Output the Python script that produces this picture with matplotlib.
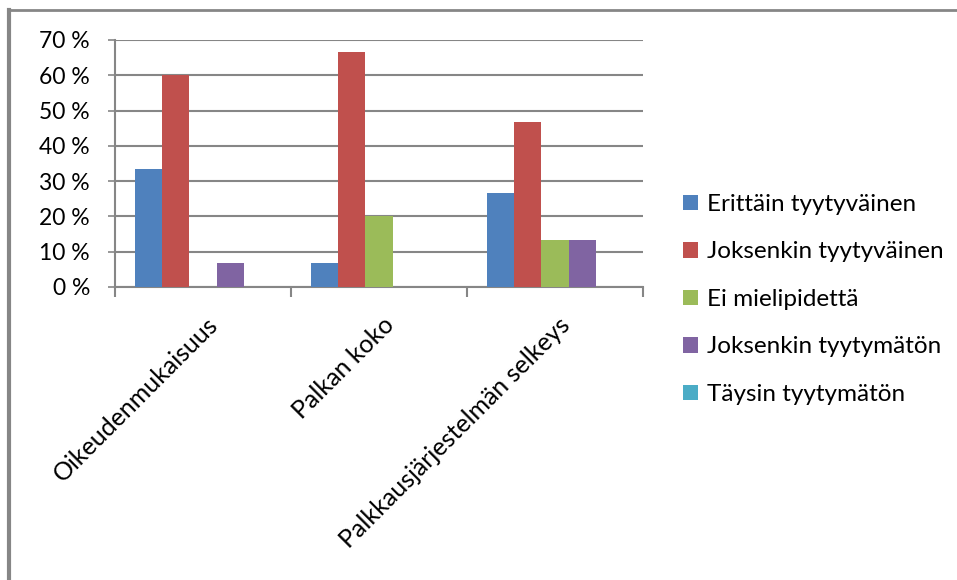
import matplotlib
matplotlib.use("Agg")
import matplotlib.pyplot as plt
from matplotlib.patches import Patch
from matplotlib.lines import Line2D
import numpy as np

plt.rcParams['font.family'] = ['Lato', 'DejaVu Sans']

categories = ["Oikeudenmukaisuus", "Palkan koko", "Palkkausjärjestelmän selkeys"]
series_names = ["Erittäin tyytyväinen", "Joksenkin tyytyväinen", "Ei mielipidettä",
                "Joksenkin tyytymätön", "Täysin tyytymätön"]
erittain = [33.3, 6.7, 26.7]
joksenkin_tyytyvainen = [60.0, 66.7, 46.7]
ei_mielipidetta = [0.0, 20.0, 13.3]
joksenkin_tyytymaton = [6.7, 0.0, 13.3]
taysin_tyytymaton = [0.0, 0.0, 0.0]
y_ticks = [0, 10, 20, 30, 40, 50, 60, 70]

series = [erittain, joksenkin_tyytyvainen, ei_mielipidetta, joksenkin_tyytymaton, taysin_tyytymaton]
colors = ["#4F81BD", "#C0504D", "#9BBB59", "#8064A2", "#4BACC6"]
grid_col = "#868686"

W, H = 957, 580
fig = plt.figure(figsize=(W / 100, H / 100), dpi=100)
fig.patch.set_facecolor("white")

ax = fig.add_axes([115 / W, 1 - 287 / H, (643 - 115) / W, (287 - 40) / H])

x = np.arange(len(categories))
n = len(series)
bw = 1 / (n + 1.5)
for i, (vals, col) in enumerate(zip(series, colors)):
    ax.bar(x + (i - (n - 1) / 2) * bw, vals, width=bw, color=col, linewidth=0, zorder=3)

ax.set_xlim(-0.5, len(categories) - 0.5)
ax.set_ylim(0, 70)
ax.set_yticks(y_ticks)
ax.set_yticklabels([f"{v} %" for v in y_ticks], fontsize=16.5, color="#000000")
ax.yaxis.grid(True, color=grid_col, linewidth=1.5, zorder=0)
ax.tick_params(axis="y", length=5, width=1.2, color=grid_col, pad=13)

# category boundaries as tick marks, names centred underneath
ax.set_xticks(np.arange(len(categories) + 1) - 0.5)
ax.set_xticklabels([])
ax.tick_params(axis="x", length=7, width=1.5, color=grid_col)
for xi, name in zip(x, categories):
    ax.annotate(name, xy=(xi, 0), xycoords=("data", "axes fraction"),
                xytext=(3, -26), textcoords="offset pixels",
                rotation=45, ha="right", va="top", rotation_mode="anchor",
                fontsize=18)

for s in ["top", "right"]:
    ax.spines[s].set_visible(False)
for s in ["left", "bottom"]:
    ax.spines[s].set_color(grid_col)
    ax.spines[s].set_linewidth(1.5)

handles = [Patch(facecolor=c, edgecolor="none") for c in colors]
fig.legend(handles, series_names, loc="upper left", bbox_to_anchor=(683 / W, 1 - 194 / H),
           frameon=False, fontsize=17.5, handlelength=0.62, handleheight=0.62,
           handletextpad=0.35, labelspacing=1.09, borderpad=0, borderaxespad=0)

# outer chart border (top and left edges)
fig.add_artist(Line2D([9 / W, 1], [1 - 10 / H, 1 - 10 / H], transform=fig.transFigure,
                      color=grid_col, linewidth=2))
fig.add_artist(Line2D([9 / W, 9 / W], [1 - 10 / H, 0], transform=fig.transFigure,
                      color=grid_col, linewidth=3))

fig.savefig("out.png", dpi=100)
